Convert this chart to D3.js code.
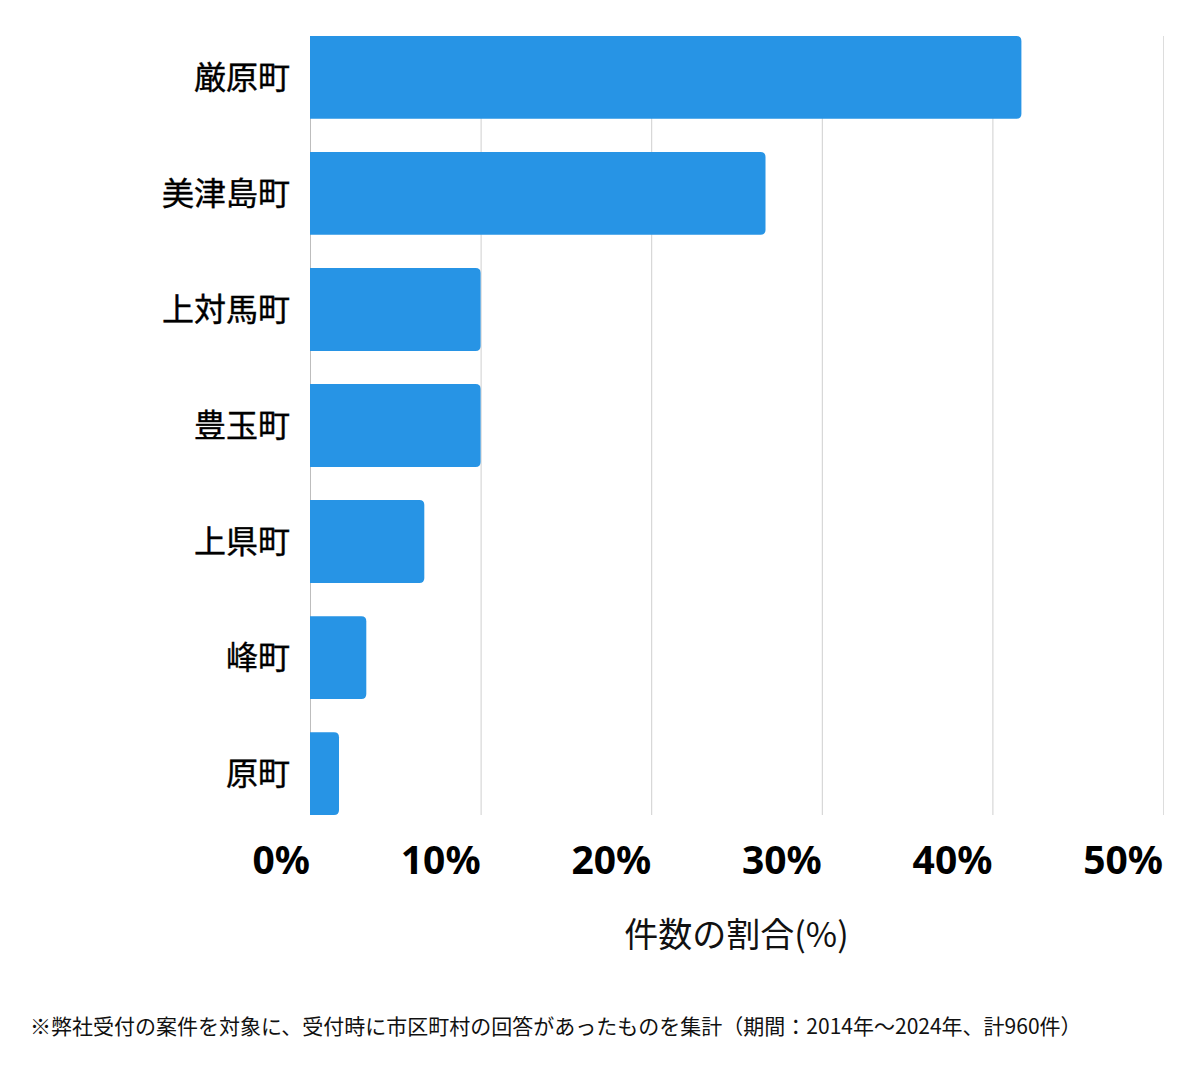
<!DOCTYPE html>
<html>
<head>
<meta charset="utf-8">
<script src="https://cdn.jsdelivr.net/npm/d3@7"></script>
<style>
  html, body { margin: 0; padding: 0; background: #fff; }
  svg { display: block; font-family: "Noto Sans CJK JP", "Noto Sans", sans-serif; }
</style>
</head>
<body>
<svg id="chart" width="1200" height="1069"></svg>
<script>
const categories = ["厳原町", "美津島町", "上対馬町", "豊玉町", "上県町", "峰町", "原町"];
const values = [41.7, 26.7, 10.0, 10.0, 6.7, 3.3, 1.7];
const tickValues = [0, 10, 20, 30, 40, 50];
const tickLabels = ["0%", "10%", "20%", "30%", "40%", "50%"];
const axisTitle = "件数の割合(%)";
const footnote = "※弊社受付の案件を対象に、受付時に市区町村の回答があったものを集計（期間：2014年～2024年、計960件）";

const svg = d3.select("#chart");
const plotLeft = 310, plotRight = 1163, plotTop = 36, plotBottom = 815;

const x = d3.scaleLinear().domain([0, 50]).range([plotLeft, plotRight]);
const y = d3.scaleBand().domain(categories).range([plotTop, plotBottom]).paddingInner(0.286).paddingOuter(0);

// gridlines
svg.append("g").selectAll("line").data(tickValues).join("line")
  .attr("x1", d => x(d) + 0.5).attr("x2", d => x(d) + 0.5)
  .attr("y1", plotTop).attr("y2", plotBottom)
  .attr("stroke", d => d === 0 ? "#bdbdbd" : (d === 50 ? "#dddddd" : "#cfcfcf"))
  .attr("stroke-width", 1);

// bars with rounded right corners
const r = 5;
function barPath(d, i) {
  const x0 = x(0), x1 = x(d), y0 = y(categories[i]), h = y.bandwidth();
  const rr = Math.min(r, (x1 - x0) / 2);
  return `M${x0},${y0}H${x1 - rr}Q${x1},${y0} ${x1},${y0 + rr}V${y0 + h - rr}Q${x1},${y0 + h} ${x1 - rr},${y0 + h}H${x0}Z`;
}
svg.append("g").selectAll("path").data(values).join("path")
  .attr("d", barPath)
  .attr("fill", "#2794e5");

// category labels
svg.append("g").selectAll("text").data(categories).join("text")
  .attr("x", 290)
  .attr("y", d => y(d) + y.bandwidth() / 2)
  .attr("dy", "0.36em")
  .attr("text-anchor", "end")
  .attr("font-size", 32)
  .attr("fill", "#000")
  .attr("stroke", "#000")
  .attr("stroke-width", 0.4)
  .text(d => d);

// tick labels
svg.append("g").selectAll("text").data(tickValues).join("text")
  .attr("x", d => x(d))
  .attr("y", 874)
  .attr("text-anchor", "end")
  .attr("font-size", 39)
  .attr("font-weight", "bold")
  .attr("font-family", "'Noto Sans', sans-serif")
  .attr("fill", "#000")
  .text((d, i) => tickLabels[i]);

// axis title
svg.append("text")
  .attr("x", (plotLeft + plotRight) / 2)
  .attr("y", 947)
  .attr("text-anchor", "middle")
  .attr("font-size", 34)
  .attr("fill", "#111")
  .text(axisTitle);

// footnote
svg.append("text")
  .attr("x", 30)
  .attr("y", 1034)
  .attr("font-size", 21)
  .attr("fill", "#111")
  .text(footnote);
</script>
</body>
</html>
